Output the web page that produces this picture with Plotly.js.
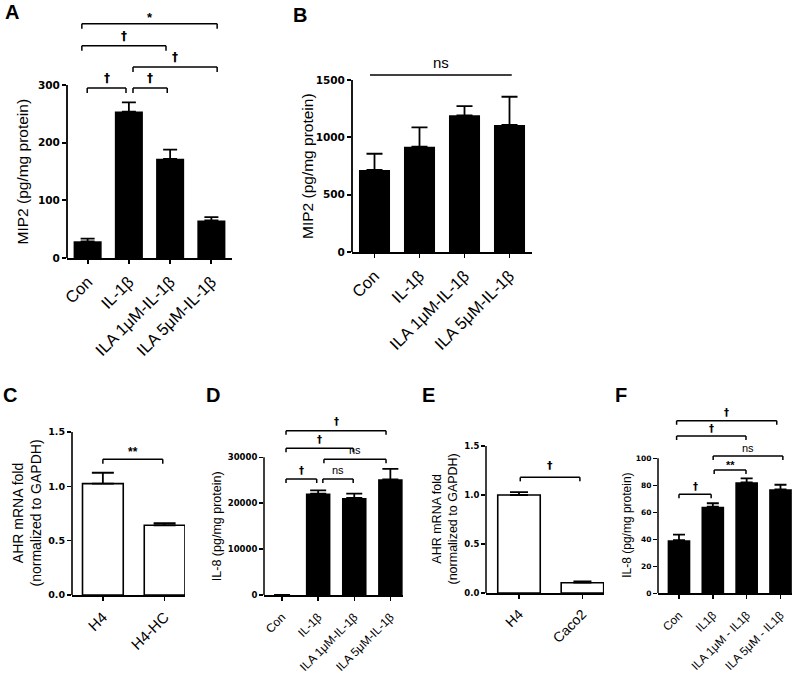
<!DOCTYPE html>
<html><head><meta charset="utf-8">
<script src="https://cdn.plot.ly/plotly-3.0.1.min.js"></script>
<style>html,body{margin:0;padding:0;background:#fff}</style>
</head><body>
<div id="chart" style="width:800px;height:673px"></div>
<script>
// ---------------- DATA ----------------
// Panel A: MIP2
const catsA = ['Con', 'IL-1β', 'ILA 1μM-IL-1β', 'ILA 5μM-IL-1β'];
const valsA = [29, 254, 172, 65];
const errA  = [4.5, 16, 16, 6];
// Panel B: MIP2
const catsB = ['Con', 'IL-1β', 'ILA 1μM-IL-1β', 'ILA 5μM-IL-1β'];
const valsB = [715, 918, 1192, 1108];
const errB  = [142, 169, 81, 246];
// Panel C: AHR mRNA fold
const catsC = ['H4', 'H4-HC'];
const valsC = [1.025, 0.642];
const errC  = [0.10, 0.02];
// Panel D: IL-8
const catsD = ['Con', 'IL-1β', 'ILA 1μM-IL-1β', 'ILA 5μM-IL-1β'];
const valsD = [0, 22100, 21150, 25200];
const errD  = [0, 700, 950, 2300];
// Panel E: AHR mRNA fold
const catsE = ['H4', 'Caco2'];
const valsE = [1.0, 0.105];
const errE  = [0.03, 0.014];
// Panel F: IL-8
const catsF = ['Con', 'IL1β', 'ILA 1μM - IL1β', 'ILA 5μM - IL1β'];
const valsF = [39.3, 64.1, 82.2, 77.0];
const errF  = [4.1, 2.6, 3.0, 3.4];

// Significance comparisons: [from, to, level (data units), label]
const sigA = [[-0.01, 0.93, 295, '†'], [1.10, 1.93, 295, '†'], [1.10, 3.14, 331, '†'], [-0.14, 1.90, 368, '†'], [-0.14, 3.14, 406, '*']];
const sigB = [[-0.10, 3.05, 1544, 'ns']];
const sigC = [[0.00, 0.97, 1.25, '**']];
const sigD = [[0.11, 0.96, 25270, '†'], [1.13, 1.97, 25270, 'ns'], [1.16, 2.88, 29560, 'ns'], [0.11, 1.97, 31960, '†'], [0.11, 2.88, 35800, '†']];
const sigE = [[0.02, 0.96, 1.18, '†']];
const sigF = [[0.00, 0.95, 73.3, '†'], [1.04, 1.98, 91.3, '**'], [1.01, 3.07, 101.7, 'ns'], [-0.07, 1.98, 116.5, '†'], [-0.07, 2.89, 127.9, '†']];

// ---------------- LAYOUT ----------------
const PW = 800, PH = 673;
const px2x = p => p / PW;
const py2y = p => 1 - p / PH;
const TXT = 'Liberation Sans, Arial, sans-serif';

const panels = [
  {letter:'A', lx:12, ly:12, cats:catsA, vals:valsA, errs:errA, white:false, xL:67, xR:232, xr:[-0.5,3.5],
   y0:258, topVal:300, topPx:85, domTop:5, ticks:[0,100,200,300], fmt:'d', tickSize:10.5, labSize:16.5, so:2,
   barW:0.68, cap:7, lw:1.8, leg:5, sig:sigA, sigSize:13, sigShift:10,
   title:'MIP2 (pg/mg protein)', tX:22, tSize:15.5},
  {letter:'B', lx:300, ly:15, cats:catsB, vals:valsB, errs:errB, white:false, xL:352, xR:532, xr:[-0.5,3.5],
   y0:252, topVal:1500, topPx:80, domTop:50, ticks:[0,500,1000,1500], fmt:'d', tickSize:10.5, labSize:16.5, so:2,
   barW:0.69, cap:8, lw:1.8, leg:0, sig:sigB, sigSize:15, sigShift:12,
   title:'MIP2 (pg/mg protein)', tX:307, tSize:15.5},
  {letter:'C', lx:10, ly:395, cats:catsC, vals:valsC, errs:errC, white:true, xL:72, xR:185, xr:[-0.5,1.33],
   y0:595, topVal:1.5, topPx:432, domTop:431, ticks:[0,0.5,1,1.5], fmt:'.1f', tickSize:9.5, labSize:15, so:2,
   barW:0.66, cap:11, lw:1.6, leg:4.5, sig:sigC, sigSize:12, sigShift:11,
   title:'AHR mRNA fold<br>(normalized to GAPDH)', tX:26, tSize:14},
  {letter:'D', lx:213, ly:395, cats:catsD, vals:valsD, errs:errD, white:false, xL:264, xR:403, xr:[-0.5,3.35],
   y0:595, topVal:30000, topPx:457.3, domTop:410, ticks:[0,10000,20000,30000], fmt:'d', tickSize:8.5, labSize:12, so:5,
   barW:0.68, cap:8, lw:1.5, leg:4, sig:sigD, sigSize:11, sigShift:9,
   title:'IL-8 (pg/mg protein)', tX:217, tSize:12.5},
  {letter:'E', lx:428, ly:395, cats:catsE, vals:valsE, errs:errE, white:true, xL:486, xR:604, xr:[-0.52,1.34],
   y0:593, topVal:1.5, topPx:446, domTop:445, ticks:[0,0.5,1,1.5], fmt:'.1f', tickSize:8.5, labSize:14, so:2,
   barW:0.67, cap:9, lw:1.5, leg:4, sig:sigE, sigSize:12, sigShift:12,
   title:'AHR mRNA fold<br>(normalized to GAPDH)', tX:444, tSize:12.5},
  {letter:'F', lx:621, ly:395, cats:catsF, vals:valsF, errs:errF, white:false, xL:658, xR:792, xr:[-0.62,3.34],
   y0:593.3, topVal:100, topPx:458.3, domTop:403, ticks:[0,20,40,60,80,100], fmt:'d', tickSize:7.5, labSize:11.8, so:5,
   barW:0.67, cap:6, lw:1.5, leg:4, sig:sigF, sigSize:11, sigShift:8,
   title:'IL-8 (pg/mg protein)', tX:627, tSize:12}
];

const traces = [];
const layout = {
  width: PW, height: PH, margin: {l:0, r:0, t:0, b:0},
  paper_bgcolor: '#fff', plot_bgcolor: 'rgba(0,0,0,0)',
  font: {family: TXT, color: '#000'},
  showlegend: false, shapes: [], annotations: []
};

panels.forEach((p, i) => {
  const n = i === 0 ? '' : String(i + 1);
  const xa = 'x' + n, ya = 'y' + n;
  const ppu = (p.y0 - p.topPx) / p.topVal;          // pixels per data unit
  const yMax = (p.y0 - p.domTop) / ppu;

  traces.push({
    type: 'bar', x: p.cats, y: p.vals, xaxis: xa, yaxis: ya, width: p.barW,
    marker: {color: p.white ? '#fff' : '#000', line: {color: '#000', width: p.white ? 1.6 : 0}},
    error_y: {type: 'data', symmetric: false, array: p.errs.map(e => e > 0 ? e : null),
              arrayminus: p.errs.map(() => 0), color: '#000', thickness: 1.8, width: p.cap},
    hoverinfo: 'skip', showlegend: false
  });

  layout['xaxis' + n] = {
    domain: [px2x(p.xL), px2x(p.xR)], anchor: ya, type: 'category', range: p.xr,
    showline: true, linecolor: '#000', linewidth: p.lw, ticks: 'outside', ticklen: 4,
    tickwidth: p.lw, tickcolor: '#000', tickangle: -45, showgrid: false, zeroline: false,
    ticklabelstandoff: p.so,
    tickfont: {family: TXT, size: p.labSize, color: '#000'}, fixedrange: true
  };
  layout['yaxis' + n] = {
    domain: [py2y(p.y0), py2y(p.domTop)], anchor: xa, range: [0, yMax],
    showline: false, ticks: 'outside', ticklen: 4, tickwidth: p.lw, tickcolor: '#000',
    tickvals: p.ticks, tickformat: p.fmt, showgrid: false, zeroline: false,
    tickfont: {family: 'DejaVu Sans, sans-serif', size: p.tickSize, color: '#000', weight: 'bold'},
    fixedrange: true
  };
  // y axis line only up to the top tick
  layout.shapes.push({type: 'line', xref: xa + ' domain', yref: ya, x0: 0, x1: 0, y0: 0, y1: p.topVal,
                      line: {color: '#000', width: p.lw}});

  // significance brackets
  const legU = p.leg / ppu;
  p.sig.forEach(s => {
    const [a, b, lev, lab] = s;
    layout.shapes.push({type: 'line', xref: xa, yref: ya, x0: a, x1: b, y0: lev, y1: lev,
                        line: {color: '#000', width: 1.5}});
    if (p.leg > 0) {
      layout.shapes.push({type: 'line', xref: xa, yref: ya, x0: a, x1: a, y0: lev, y1: lev - legU,
                          line: {color: '#000', width: 1.5}});
      layout.shapes.push({type: 'line', xref: xa, yref: ya, x0: b, x1: b, y0: lev, y1: lev - legU,
                          line: {color: '#000', width: 1.5}});
    }
    const star = lab.indexOf('*') >= 0;
    const dag = lab === '†';
    layout.annotations.push({xref: xa, yref: ya, x: (a + b) / 2, y: lev, text: lab, showarrow: false,
      xanchor: 'center', yanchor: 'middle', yshift: star ? p.sigShift - 0.3 * p.sigSize : p.sigShift,
      font: {family: dag ? 'DejaVu Sans, sans-serif' : TXT, size: dag ? p.sigSize - 1 : p.sigSize,
             color: '#000', weight: (star || dag) ? 'bold' : 'normal'}});
  });

  // y-axis title
  layout.annotations.push({xref: 'paper', yref: 'paper', x: px2x(p.tX), y: py2y((p.y0 + p.topPx) / 2),
    text: p.title, textangle: -90, showarrow: false, xanchor: 'center', yanchor: 'middle',
    font: {family: TXT, size: p.tSize, color: '#000'}});
  // panel letter
  layout.annotations.push({xref: 'paper', yref: 'paper', x: px2x(p.lx), y: py2y(p.ly), text: p.letter,
    showarrow: false, xanchor: 'center', yanchor: 'middle',
    font: {family: TXT, size: 20, color: '#000', weight: 'bold'}});
});

Plotly.newPlot('chart', traces, layout, {displayModeBar: false, staticPlot: true});
</script>
</body></html>
